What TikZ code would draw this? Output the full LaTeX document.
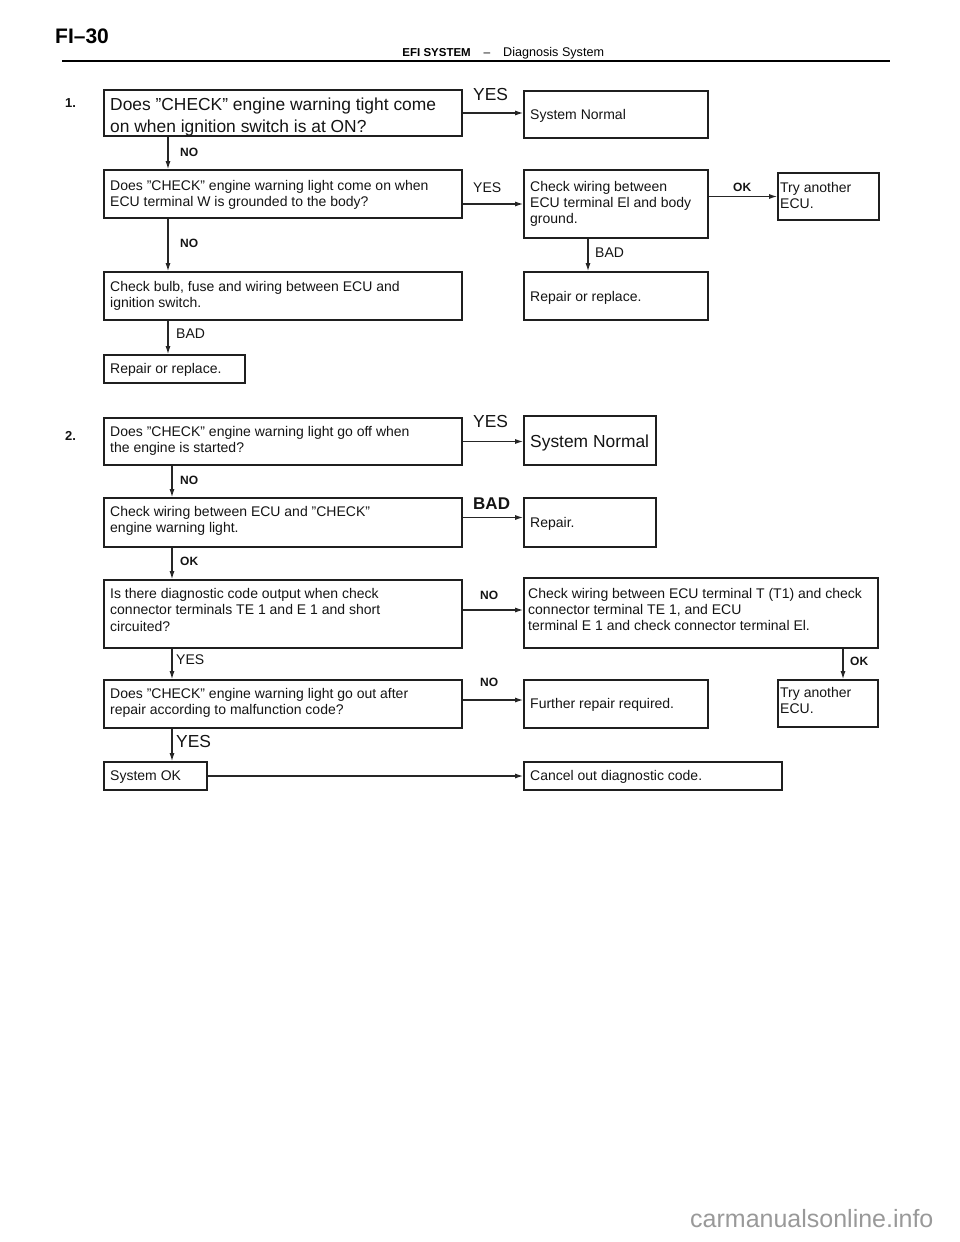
\documentclass[tikz,border=0pt]{standalone}
\usepackage{fontspec}
\setmainfont{Liberation Sans}
\usetikzlibrary{arrows.meta,fit}
\newcommand\mylines[1]{\begin{tabular}[t]{@{}l@{}}#1\end{tabular}}
\newcommand\bigf{\fontsize{17.4}{22}\selectfont}
\newcommand\midf{\fontsize{14}{16}\selectfont}
\tikzset{
  box/.style={draw=black!88, line width=1.7pt, inner sep=0pt},
  txt/.style={anchor=base west, inner sep=0pt, font=\midf, text=black!92},
  bigtxt/.style={txt, font=\bigf},
  lab/.style={anchor=base west, inner sep=0pt, font=\midf, text=black!92},
  labb/.style={lab, font=\bfseries\fontsize{12}{14}\selectfont},
  arr/.style={line width=1.2pt, draw=black!85, -{Latex[length=8pt,width=5pt]}}
}
\begin{document}
\begin{tikzpicture}[x=1pt,y=-1pt]
\useasboundingbox (0,0) rectangle (960,1242);
% header
\node[anchor=base west, inner sep=0pt, font=\bfseries\fontsize{21}{24}\selectfont] (hdr) at (55,43) {FI–30};
\node[anchor=base east, inner sep=0pt, font=\bfseries\fontsize{11.5}{13}\selectfont] (efi) at (471,56) {EFI SYSTEM};
\node[anchor=base, inner sep=0pt, font=\fontsize{12}{14}\selectfont] (dash) at (487,56) {–};
\node[anchor=base west, inner sep=0pt, font=\fontsize{12.6}{14}\selectfont] (diag) at (503,56) {Diagnosis System};
\coordinate (rl) at (62,61);
\coordinate (rr) at (890,61);
\draw[line width=1.3pt] (rl) -- (rr);

% section 1
\node[labb, font=\bfseries\fontsize{13}{15}\selectfont] (n1) at (65,107) {1.};
\node[box, fit={(104,90)(462,136)}] (b1) {};
\node[bigtxt] (b1t) at (110,110) {\mylines{Does ”CHECK” engine warning tight come\\on when ignition switch is at ON?}};
\node[lab, font=\bigf] (y1) at (473,100) {YES};
\node[box, fit={(524,91)(708,138)}] (sn1) {};
\node[txt] (sn1t) at (530,119) {System Normal};

\node[labb] (no1) at (180,156) {NO};
\node[box, fit={(104,170)(462,218)}] (b2) {};
\node[txt] (b2t) at (110,190) {\mylines{Does ”CHECK” engine warning light come on when\\ECU terminal W is grounded to the body?}};
\node[lab] (y2) at (473,192) {YES};
\node[box, fit={(524,170)(708,238)}] (cw) {};
\node[txt] (cwt) at (530,191) {\mylines{Check wiring between\\ECU terminal El and body\\ground.}};
\node[labb] (ok1) at (733,191) {OK};
\node[box, fit={(778,173)(879,220)}] (try1) {};
\node[txt] (try1t) at (780,192) {\mylines{Try another\\ECU.}};
\node[lab] (bad1) at (595,257) {BAD};
\node[box, fit={(524,272)(708,320)}] (rr1) {};
\node[txt] (rr1t) at (530,301) {Repair or replace.};
\node[labb] (no2) at (180,247) {NO};
\node[box, fit={(104,272)(462,320)}] (b3) {};
\node[txt] (b3t) at (110,291) {\mylines{Check bulb, fuse and wiring between ECU and\\ignition switch.}};
\node[lab] (bad2) at (176,338) {BAD};
\node[box, fit={(104,355)(245,383)}] (rr2) {};
\node[txt] (rr2t) at (110,373) {Repair or replace.};

% section 2
\node[labb, font=\bfseries\fontsize{13}{15}\selectfont] (n2) at (65,440) {2.};
\node[box, fit={(104,418)(462,465)}] (c1) {};
\node[txt] (c1t) at (110,436) {\mylines{Does ”CHECK” engine warning light go off when\\the engine is started?}};
\node[lab, font=\bigf] (y3) at (473,427) {YES};
\node[box, fit={(524,416)(656,465)}] (sn2) {};
\node[bigtxt] (sn2t) at (530,447) {System Normal};
\node[labb] (no3) at (180,484) {NO};
\node[box, fit={(104,498)(462,547)}] (c2) {};
\node[txt] (c2t) at (110,516) {\mylines{Check wiring between ECU and ”CHECK”\\engine warning light.}};
\node[lab, font=\bfseries\fontsize{17}{20}\selectfont] (bad3) at (473,509) {BAD};
\node[box, fit={(524,498)(656,547)}] (rep) {};
\node[txt] (rept) at (530,527) {Repair.};
\node[labb] (ok2) at (180,565) {OK};
\node[box, fit={(104,580)(462,648)}] (c3) {};
\node[txt, font=\fontsize{14}{16.5}\selectfont] (c3t) at (110,598) {\mylines{Is there diagnostic code output when check\\connector terminals TE 1 and E 1 and short\\circuited?}};
\node[labb] (no4) at (480,599) {NO};
\node[box, fit={(524,578)(878,648)}] (cw2) {};
\node[txt] (cw2t) at (528,598) {\mylines{Check wiring between ECU terminal T (T1) and check\\connector terminal TE 1, and ECU\\terminal E 1 and check connector terminal El.}};
\node[labb] (ok3) at (850,665) {OK};
\node[box, fit={(778,680)(878,727)}] (try2) {};
\node[txt] (try2t) at (780,697) {\mylines{Try another\\ECU.}};
\node[lab] (y4) at (176,664) {YES};
\node[box, fit={(104,680)(462,728)}] (c4) {};
\node[txt] (c4t) at (110,698) {\mylines{Does ”CHECK” engine warning light go out after\\repair according to malfunction code?}};
\node[labb] (no5) at (480,686) {NO};
\node[box, fit={(524,680)(708,728)}] (fr) {};
\node[txt] (frt) at (530,708) {Further repair required.};
\node[lab, font=\bigf] (y5) at (176,747) {YES};
\node[box, fit={(104,762)(207,790)}] (sok) {};
\node[txt] (sokt) at (110,780) {System OK};
\node[box, fit={(524,762)(782,790)}] (cancel) {};
\node[txt] (cancelt) at (530,780) {Cancel out diagnostic code.};

% watermark
\node[anchor=base west, inner sep=0pt, font=\fontsize{25}{28}\selectfont, text=black!40] (wm) at (690,1227) {carmanualsonline.info};

% connectors
\coordinate (colA) at (168,0);
\coordinate (colB) at (172,0);
\coordinate (colC) at (588,0);
\coordinate (colD) at (843,0);
\draw[arr] (b1.east) -- (b1.east -| sn1.west);
\draw[arr] (b1.south -| colA) -- (b2.north -| colA);
\draw[arr] (b2.east |- cw.west) -- (cw.west);
\draw[arr] (cw.east |- try1.west) -- (try1.west);
\draw[arr] (cw.south -| colC) -- (rr1.north -| colC);
\draw[arr] (b2.south -| colA) -- (b3.north -| colA);
\draw[arr] (b3.south -| colA) -- (rr2.north -| colA);

\draw[arr] (c1.east) -- (c1.east -| sn2.west);
\draw[arr] (c1.south -| colB) -- (c2.north -| colB);
\draw[arr] ([yshift=5pt]c2.east) -- ([yshift=5pt]rep.west);
\draw[arr] (c2.south -| colB) -- (c3.north -| colB);
\draw[arr] ([yshift=4pt]c3.east) -- ([yshift=4pt]c3.east -| cw2.west);
\draw[arr] (cw2.south -| colD) -- (try2.north -| colD);
\draw[arr] (c3.south -| colB) -- (c4.north -| colB);
\draw[arr] ([yshift=4pt]c4.east) -- ([yshift=4pt]fr.west);
\draw[arr] (c4.south -| colB) -- (sok.north -| colB);
\draw[arr] (sok.east) -- (sok.east -| cancel.west);
\end{tikzpicture}
\end{document}
